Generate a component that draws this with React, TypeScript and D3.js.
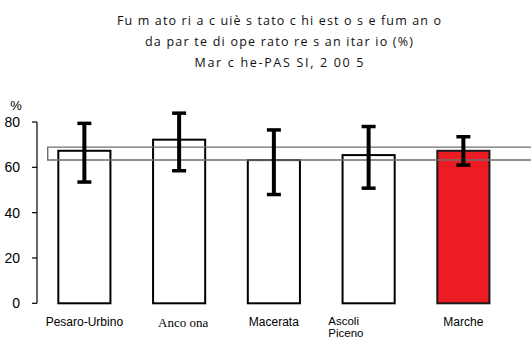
import React from "react";
import * as d3 from "d3";

// Smokers asked by a health worker whether they smoke, by province
const categories = ["Pesaro-Urbino", "Anco ona", "Macerata", "Ascoli Piceno", "Marche"];
const categoryLines = [["Pesaro-Urbino"], ["Anco ona"], ["Macerata"], ["Ascoli", "Piceno"], ["Marche"]];
const values = [67.3, 72.2, 63.2, 65.4, 67.3];
const lowerCI = [53.5, 58.5, 48, 50.8, 61];
const upperCI = [79.4, 83.9, 76.5, 78, 73.5];
// Regional confidence interval band
const regionBand = [63.2, 68.9];
const yTicks = [0, 20, 40, 60, 80];
const titleLines = [
  "Fu m ato ri a c uiè  s tato  c hi est o  s e fum an o",
  "da  par te  di  ope rato re  s an itar io  (%)",
  "Mar c he-PAS  SI, 2  00 5",
];

const W = 531;
const H = 337;

export default function App() {
  const x = d3
    .scaleBand<string>()
    .domain(categories)
    .range([37, 510.75])
    .paddingInner(0.45)
    .paddingOuter(0.225);
  const y = d3.scaleLinear().domain([0, 80]).range([303.3, 122]);
  const bw = x.bandwidth();

  const titleWidths = [324, 268, 169];
  const titleBaselines = [24.5, 46, 67];

  return (
    <svg
      width={W}
      height={H}
      style={{ position: "absolute", left: 0, top: 0, background: "#fff" }}
      fontFamily="Arimo, 'Liberation Sans', Arial, sans-serif"
    >
      {/* title */}
      {titleLines.map((t, i) => (
        <text
          key={i}
          x={279}
          y={titleBaselines[i]}
          textAnchor="middle"
          fontFamily="'Open Sans', sans-serif"
          fontSize={12.5}
          textLength={titleWidths[i]}
          lengthAdjust="spacing"
          fill="#111"
        >
          {t}
        </text>
      ))}

      {/* y axis */}
      <line x1={37} x2={37} y1={y(80)} y2={y(0)} stroke="#000" strokeWidth={1.2} />
      {yTicks.map((t) => (
        <g key={t}>
          <line x1={32} x2={37} y1={y(t)} y2={y(t)} stroke="#000" strokeWidth={1.2} />
          <text x={20} y={y(t) + 5} textAnchor="end" fontSize={14} fill="#000">
            {t}
          </text>
        </g>
      ))}
      <text x={16} y={110} textAnchor="middle" fontSize={13} fill="#000">
        %
      </text>

      {/* bars */}
      {categories.map((c, i) => (
        <rect
          key={c}
          x={x(c)!}
          y={y(values[i])}
          width={bw}
          height={y(0) - y(values[i])}
          fill={i === categories.length - 1 ? "#ED1C24" : "#fff"}
          stroke={i === categories.length - 1 ? "#1a1a1a" : "#000"}
          strokeWidth={2}
        />
      ))}

      {/* regional band */}
      <path
        d={`M${W},${y(regionBand[1])}H47.7V${y(regionBand[0])}H${W}`}
        fill="none"
        stroke="#6e6e6e"
        strokeWidth={1.4}
      />

      {/* error bars */}
      {categories.map((c, i) => {
        const cx = x(c)! + bw / 2;
        return (
          <g key={c} stroke="#000">
            <line x1={cx} x2={cx} y1={y(upperCI[i])} y2={y(lowerCI[i])} strokeWidth={4} />
            <line x1={cx - 7} x2={cx + 7} y1={y(upperCI[i])} y2={y(upperCI[i])} strokeWidth={3.5} />
            <line x1={cx - 7} x2={cx + 7} y1={y(lowerCI[i])} y2={y(lowerCI[i])} strokeWidth={3.5} />
          </g>
        );
      })}

      {/* category labels */}
      {categories.map((c, i) => {
        const cx = x(c)! + bw / 2;
        const lines = categoryLines[i];
        if (lines.length > 1) {
          return (
            <text key={c} x={328.3} y={324.5} fontSize={11.5} fill="#000">
              {lines.map((l, j) => (
                <tspan key={j} x={328.3} dy={j === 0 ? 0 : 12.5}>
                  {l}
                </tspan>
              ))}
            </text>
          );
        }
        const serif = c === "Anco ona";
        return (
          <text
            key={c}
            x={serif ? cx + 4 : cx}
            y={serif ? 327 : 325.5}
            textAnchor="middle"
            fontSize={serif ? 13 : 12}
            fontFamily={serif ? "'Liberation Serif', 'Times New Roman', serif" : undefined}
            fill="#000"
          >
            {lines[0]}
          </text>
        );
      })}
    </svg>
  );
}
